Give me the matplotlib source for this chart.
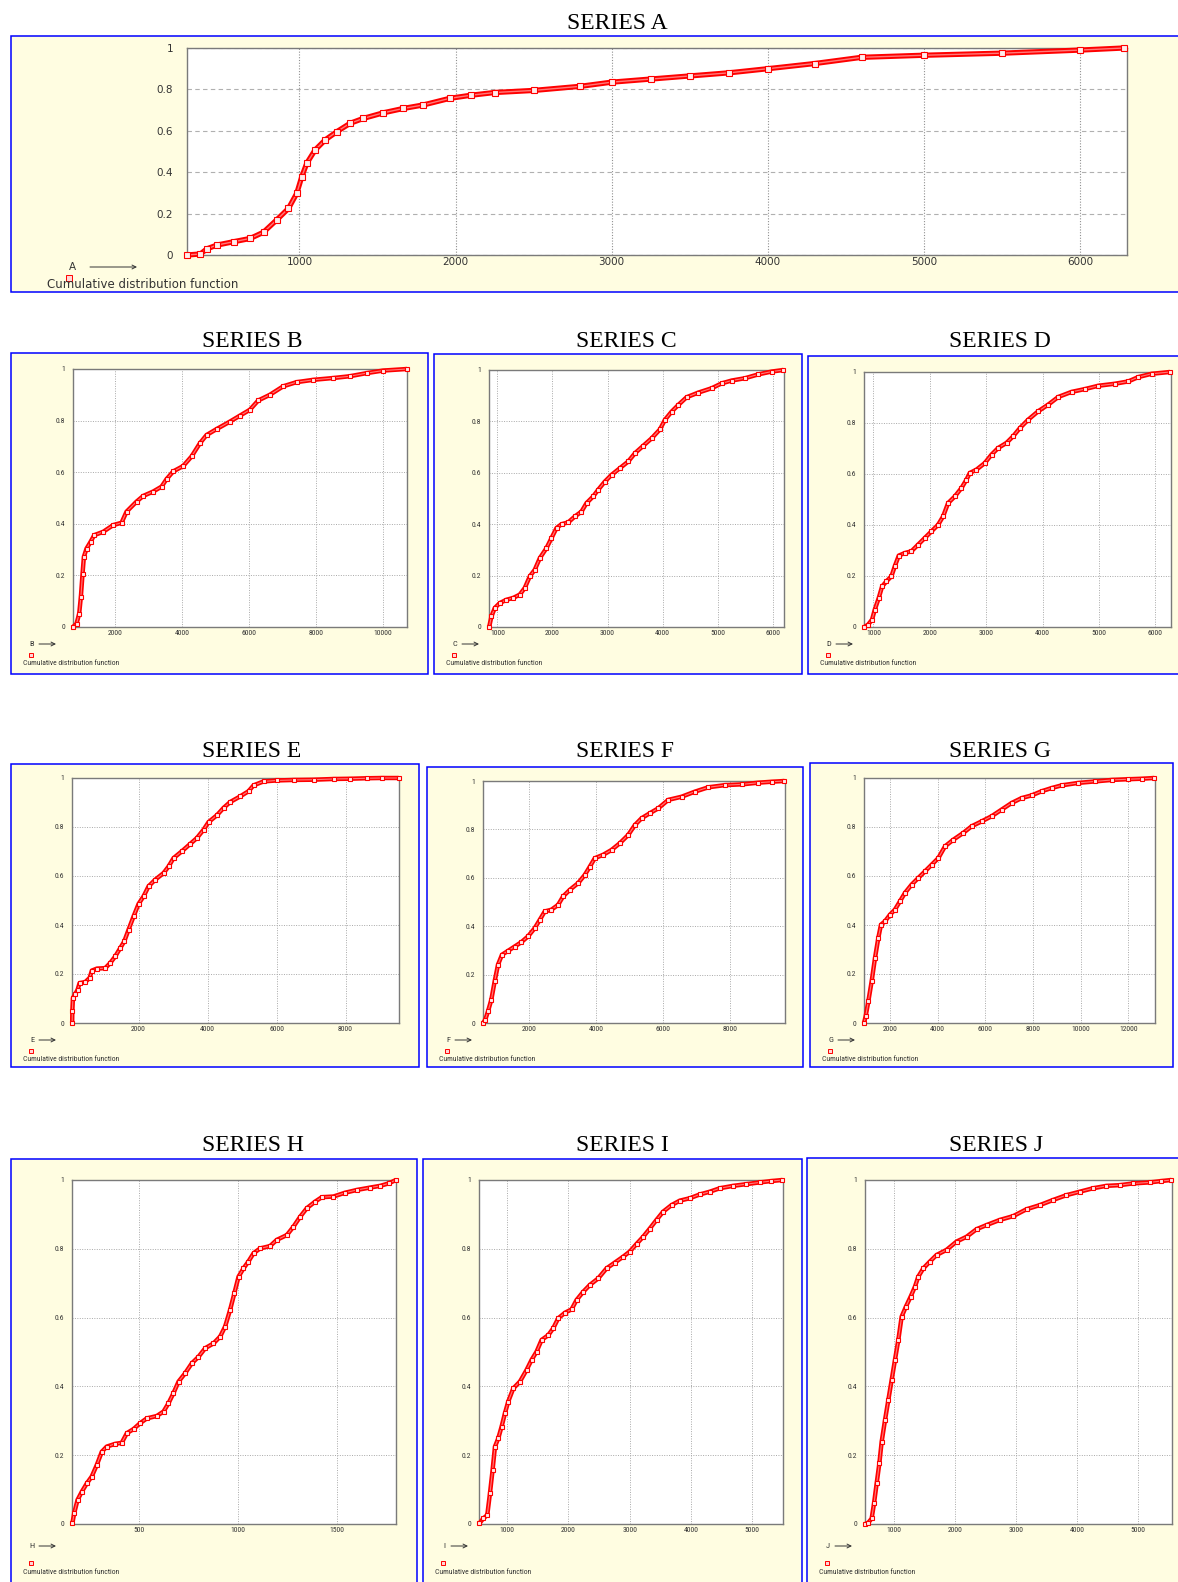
import matplotlib.pyplot as plt
from matplotlib.patches import Rectangle
from matplotlib import font_manager

W, H = 1178, 1582

# ---- data (x value, cumulative probability) ----
a_x = [280, 366, 408, 472, 578, 685, 770, 855, 930, 983, 1015, 1047, 1100, 1165, 1240, 1324,
       1410, 1538, 1666, 1794, 1964, 2100, 2250, 2500, 2800, 3000, 3250, 3500, 3750, 4000,
       4300, 4600, 5000, 5500, 6000, 6280]
a_y = [0, 0.005, 0.03, 0.048, 0.064, 0.08, 0.11, 0.17, 0.225, 0.298, 0.378, 0.443, 0.507, 0.556,
       0.596, 0.636, 0.66, 0.687, 0.708, 0.725, 0.757, 0.772, 0.785, 0.795, 0.815, 0.835, 0.85,
       0.865, 0.88, 0.9, 0.925, 0.955, 0.965, 0.975, 0.99, 1.0]

b_x = [750, 856, 935, 985, 1035, 1075, 1154, 1274, 1383, 1652, 1950, 2199, 2348, 2647, 2846,
       3144, 3393, 3542, 3741, 4040, 4289, 4537, 4736, 5035, 5433, 5731, 6030, 6279, 6627,
       7025, 7423, 7920, 8517, 9015, 9512, 10010, 10720]
b_y = [0, 0.013, 0.052, 0.117, 0.207, 0.272, 0.304, 0.33, 0.356, 0.369, 0.395, 0.404, 0.447,
       0.486, 0.508, 0.525, 0.544, 0.573, 0.603, 0.624, 0.661, 0.712, 0.744, 0.767, 0.796,
       0.819, 0.842, 0.878, 0.9, 0.933, 0.949, 0.958, 0.965, 0.972, 0.984, 0.994, 1.0]

c_x = [850, 891, 952, 1042, 1164, 1285, 1406, 1497, 1588, 1679, 1770, 1891, 1982, 2073, 2164,
       2285, 2406, 2527, 2618, 2739, 2830, 2952, 3073, 3224, 3376, 3497, 3648, 3800, 3952,
       4042, 4164, 4285, 4436, 4648, 4891, 5073, 5255, 5497, 5739, 5982, 6194]
c_y = [0, 0.041, 0.074, 0.093, 0.106, 0.113, 0.126, 0.152, 0.197, 0.223, 0.268, 0.307, 0.346,
       0.385, 0.4, 0.407, 0.43, 0.449, 0.482, 0.508, 0.534, 0.566, 0.592, 0.618, 0.644, 0.676,
       0.705, 0.734, 0.769, 0.806, 0.838, 0.864, 0.894, 0.912, 0.929, 0.948, 0.959, 0.968,
       0.983, 0.994, 1.0]

d_x = [840, 905, 976, 1024, 1095, 1154, 1231, 1320, 1379, 1450, 1556, 1675, 1793, 1911, 2030,
       2148, 2237, 2325, 2444, 2562, 2651, 2710, 2828, 2976, 3095, 3213, 3361, 3479, 3598,
       3746, 3923, 4101, 4278, 4515, 4751, 4988, 5284, 5521, 5698, 5935, 6260]
d_y = [0, 0.009, 0.029, 0.068, 0.114, 0.159, 0.179, 0.199, 0.238, 0.28, 0.29, 0.297, 0.323,
       0.349, 0.375, 0.401, 0.434, 0.486, 0.512, 0.545, 0.578, 0.604, 0.617, 0.643, 0.676,
       0.702, 0.722, 0.748, 0.78, 0.813, 0.846, 0.872, 0.902, 0.922, 0.933, 0.946, 0.954,
       0.963, 0.98, 0.993, 1.0]

e_x = [75, 80, 97, 164, 232, 290, 454, 580, 647, 792, 1034, 1179, 1324, 1469, 1585, 1710, 1855,
       2000, 2145, 2290, 2483, 2725, 2870, 3014, 3256, 3498, 3691, 3884, 4029, 4271, 4464,
       4657, 4947, 5188, 5333, 5623, 6010, 6493, 7072, 7652, 8135, 8618, 9053, 9540]
e_y = [0, 0.048, 0.102, 0.118, 0.136, 0.163, 0.167, 0.184, 0.214, 0.222, 0.224, 0.245, 0.272,
       0.306, 0.333, 0.381, 0.435, 0.486, 0.517, 0.558, 0.585, 0.612, 0.639, 0.673, 0.701,
       0.731, 0.755, 0.789, 0.82, 0.848, 0.878, 0.902, 0.925, 0.946, 0.97, 0.986, 0.99,
       0.992, 0.993, 0.996, 0.997, 0.999, 1.0, 1.0]

f_x = [630, 694, 774, 873, 973, 1073, 1192, 1372, 1571, 1771, 1970, 2170, 2319, 2469, 2668,
       2867, 3017, 3216, 3466, 3665, 3815, 3964, 4213, 4463, 4712, 4961, 5161, 5360, 5609,
       5858, 6158, 6556, 6955, 7354, 7852, 8351, 8850, 9248, 9627]
f_y = [0, 0.014, 0.048, 0.096, 0.172, 0.241, 0.282, 0.298, 0.316, 0.334, 0.358, 0.392, 0.426,
       0.461, 0.468, 0.488, 0.523, 0.55, 0.578, 0.612, 0.646, 0.681, 0.695, 0.715, 0.743,
       0.777, 0.818, 0.846, 0.867, 0.887, 0.922, 0.935, 0.956, 0.974, 0.983, 0.986, 0.993,
       0.997, 1.0]

g_x = [910, 979, 1091, 1231, 1371, 1510, 1622, 1790, 2000, 2210, 2420, 2629, 2909, 3189, 3469,
       3748, 4028, 4308, 4657, 5077, 5427, 5846, 6266, 6685, 7105, 7524, 7944, 8364, 8783,
       9203, 9902, 10601, 11301, 12000, 12559, 13091]
g_y = [0, 0.027, 0.088, 0.17, 0.265, 0.347, 0.401, 0.415, 0.442, 0.463, 0.497, 0.531, 0.565,
       0.592, 0.619, 0.646, 0.673, 0.721, 0.748, 0.776, 0.803, 0.823, 0.844, 0.871, 0.898,
       0.918, 0.929, 0.946, 0.959, 0.97, 0.98, 0.986, 0.992, 0.995, 0.997, 1.0]

h_x = [160, 169, 186, 208, 233, 258, 284, 309, 334, 377, 410, 436, 470, 503, 537, 588, 622, 647,
       672, 698, 731, 765, 799, 833, 875, 909, 934, 959, 981, 1002, 1027, 1052, 1078, 1111,
       1162, 1196, 1247, 1280, 1314, 1348, 1390, 1424, 1483, 1542, 1601, 1669, 1720, 1762, 1800]
h_y = [0.002, 0.031, 0.07, 0.094, 0.118, 0.138, 0.172, 0.21, 0.225, 0.233, 0.236, 0.264, 0.276,
       0.293, 0.307, 0.314, 0.327, 0.351, 0.38, 0.414, 0.438, 0.467, 0.486, 0.511, 0.525,
       0.545, 0.574, 0.622, 0.671, 0.719, 0.743, 0.763, 0.787, 0.801, 0.808, 0.826, 0.84,
       0.864, 0.893, 0.918, 0.937, 0.95, 0.952, 0.963, 0.971, 0.978, 0.983, 0.99, 1.0]

i_x = [545, 608, 673, 717, 760, 799, 853, 907, 962, 1016, 1098, 1207, 1316, 1397, 1479, 1561,
       1670, 1751, 1833, 1942, 2051, 2132, 2241, 2350, 2486, 2622, 2758, 2894, 3003, 3112,
       3221, 3330, 3439, 3548, 3684, 3820, 3983, 4146, 4310, 4473, 4691, 4909, 5126, 5317, 5497]
i_y = [0.002, 0.016, 0.026, 0.089, 0.157, 0.225, 0.249, 0.283, 0.322, 0.356, 0.394, 0.414,
       0.448, 0.477, 0.501, 0.535, 0.549, 0.569, 0.598, 0.614, 0.624, 0.651, 0.675, 0.695,
       0.714, 0.743, 0.76, 0.777, 0.792, 0.814, 0.835, 0.859, 0.884, 0.908, 0.927, 0.94,
       0.947, 0.958, 0.966, 0.976, 0.983, 0.988, 0.993, 0.997, 1.0]

j_x = [530, 580, 634, 673, 716, 760, 798, 853, 907, 962, 1016, 1071, 1126, 1196, 1273, 1344,
       1398, 1480, 1589, 1698, 1862, 2026, 2190, 2353, 2517, 2735, 2954, 3172, 3390, 3608,
       3827, 4045, 4263, 4482, 4700, 4918, 5191, 5382, 5546]
j_y = [0, 0.004, 0.016, 0.06, 0.118, 0.176, 0.239, 0.302, 0.36, 0.419, 0.477, 0.535, 0.603,
       0.632, 0.661, 0.69, 0.719, 0.743, 0.763, 0.782, 0.797, 0.821, 0.835, 0.857, 0.869,
       0.884, 0.895, 0.915, 0.927, 0.942, 0.956, 0.966, 0.976, 0.983, 0.985, 0.99, 0.993,
       0.997, 1.0]

names = ['A', 'B', 'C', 'D', 'E', 'F', 'G', 'H', 'I', 'J']
xs = [a_x, b_x, c_x, d_x, e_x, f_x, g_x, h_x, i_x, j_x]
ys = [a_y, b_y, c_y, d_y, e_y, f_y, g_y, h_y, i_y, j_y]
xlims = [(280, 6300), (750, 10720), (847, 6205), (833, 6279), (70, 9550),
         (625, 9644), (910, 13119), (158, 1800), (538, 5506), (525, 5556)]
xticks = [[1000, 2000, 3000, 4000, 5000, 6000],
          [2000, 4000, 6000, 8000, 10000],
          [1000, 2000, 3000, 4000, 5000, 6000],
          [1000, 2000, 3000, 4000, 5000, 6000],
          [2000, 4000, 6000, 8000],
          [2000, 4000, 6000, 8000],
          [2000, 4000, 6000, 8000, 10000, 12000],
          [500, 1000, 1500],
          [1000, 2000, 3000, 4000, 5000],
          [1000, 2000, 3000, 4000, 5000]]
yticks = [0, 0.2, 0.4, 0.6, 0.8, 1]
ytick_labels = ['0', '0.2', '0.4', '0.6', '0.8', '1']
legend_text = 'Cumulative distribution function'

# ---- layout in pixels: outer box, plot area, title position ----
boxes = [(11, 36, 1186, 292), (11, 353, 428, 674), (434, 354, 802, 674), (808, 356, 1186, 674),
         (11, 764, 419, 1067), (427, 767, 803, 1067), (810, 763, 1173, 1067),
         (11, 1159, 417, 1596), (423, 1159, 802, 1596), (807, 1158, 1186, 1596)]
plots = [(187, 48, 1127, 255), (73, 369, 407, 627), (489, 370, 784, 627), (864, 372, 1171, 627),
         (72, 778, 399, 1023), (483, 781, 785, 1023), (864, 778, 1155, 1023),
         (72, 1180, 396, 1524), (479, 1180, 783, 1524), (865, 1180, 1172, 1524)]
titles = [(617, 29), (252, 347), (626, 347), (1000, 347), (252, 757), (625, 757), (1000, 757),
          (253, 1151), (622, 1151), (996, 1151)]

BG = '#FFFDE1'

# pick a narrow sans face for the tiny labels if one is installed
avail = {(f.name, f.stretch) for f in font_manager.fontManager.ttflist}
avail_names = {n for n, s in avail}
small_fp = None
for cand in ['Liberation Sans Narrow', 'Roboto Condensed', 'Open Sans Condensed',
             'DejaVu Sans Condensed', 'Noto Sans Condensed', 'Arial Narrow']:
    if cand in avail_names:
        small_fp = dict(family=cand)
        small_scale = 1.0
        break
if small_fp is None:
    cond = [n for n, s in avail if n == 'DejaVu Sans' and s in ('condensed', 'semi-condensed')]
    if cond:
        small_fp = dict(family='DejaVu Sans', stretch='condensed')
        small_scale = 0.95
    else:
        small_fp = dict(family='DejaVu Sans')
        small_scale = 0.88

fig = plt.figure(figsize=(W / 100, H / 100), dpi=100)
bg = fig.add_axes([0, 0, 1, 1])
bg.set_xlim(0, W)
bg.set_ylim(H, 0)
bg.axis('off')


def frac(x0, y0, x1, y1):
    return [x0 / W, 1 - y1 / H, (x1 - x0) / W, (y1 - y0) / H]


for k, name in enumerate(names):
    bx0, by0, bx1, by1 = boxes[k]
    px0, py0, px1, py1 = plots[k]
    big = (k == 0)
    bg.add_patch(Rectangle((bx0, by0), bx1 - bx0, by1 - by0, facecolor=BG,
                           edgecolor='#0000FF', lw=1.1))
    bg.text(titles[k][0], titles[k][1], 'SERIES ' + name, family='Liberation Serif',
            fontsize=17, ha='center', va='baseline', color='black')

    # bottom-left legend bits
    if big:
        lx, ly = bx0 + 61, py1 + 12
        ax0, ax1 = bx0 + 79, bx0 + 126
        sx, sy = bx0 + 58, py1 + 23
        tx, ty = bx0 + 36, py1 + 29
        fp, fs_l, fs_t, ms_l = dict(family='DejaVu Sans'), 7.5, 8.5, 4
    else:
        off = 22 if k >= 7 else 17
        lx, ly = bx0 + 21, py1 + off
        ax0, ax1 = bx0 + 28, bx0 + 45
        sx, sy = bx0 + 20, py1 + off + (17 if k >= 7 else 11)
        tx, ty = bx0 + 12, py1 + off + (26 if k >= 7 else 19)
        fp, fs_l, fs_t, ms_l = small_fp, 6 * small_scale, 5.5 * small_scale, 2.6
    bg.text(lx, ly, name, fontsize=fs_l, ha='center', va='center', color='#333333', **fp)
    bg.annotate('', xy=(ax1, ly), xytext=(ax0, ly),
                arrowprops=dict(arrowstyle='->', lw=0.7, color='#333333',
                                shrinkA=0, shrinkB=0, mutation_scale=7))
    bg.plot([sx], [sy], marker='s', ms=ms_l, mfc='#ffd6d6', mec='red', mew=0.7)
    bg.text(tx, ty, legend_text, fontsize=fs_t, ha='left', va='center', color='#333333', **fp)

    ax = fig.add_axes(frac(px0, py0, px1, py1))
    ax.set_facecolor('white')
    ax.plot(xs[k], ys[k], color='red', lw=3.8 if big else 3.2, solid_capstyle='butt',
            solid_joinstyle='round', zorder=3, clip_on=False)
    ax.plot(xs[k], ys[k], color='#ff7a7a', lw=1.0 if big else 0.8, zorder=4, clip_on=False)
    ax.plot(xs[k], ys[k], ls='none', marker='s', ms=4.4 if big else 3.2, mfc='#ffecec',
            mec='red', mew=0.8, zorder=5, clip_on=False)
    ax.set_xlim(*xlims[k])
    ax.set_ylim(0, 1)
    ax.set_xticks(xticks[k])
    ax.set_xticklabels([str(v) for v in xticks[k]])
    ax.set_yticks(yticks)
    ax.set_yticklabels(ytick_labels)
    for s in ax.spines.values():
        s.set_color('#7a7a7a')
        s.set_linewidth(1.0)
    if big:
        ax.tick_params(axis='y', length=0, pad=10, labelsize=7.5, labelcolor='#333333')
        ax.tick_params(axis='x', length=0, pad=1.5, labelsize=7.5, labelcolor='#333333')
        ax.grid(True, axis='y', color='#b0b0b0', ls=(0, (4, 3)), lw=0.8)
        ax.grid(True, axis='x', color='#909090', ls=(0, (1, 1.5)), lw=0.8)
    else:
        ax.tick_params(axis='y', length=0, pad=5.5, labelsize=5.5 * small_scale,
                       labelcolor='#333333')
        ax.tick_params(axis='x', length=0, pad=2, labelsize=5.5 * small_scale,
                       labelcolor='#333333')
        for lab in ax.get_xticklabels() + ax.get_yticklabels():
            lab.set_family(small_fp['family'])
            if 'stretch' in small_fp:
                lab.set_stretch(small_fp['stretch'])
        ax.grid(True, color='#a8a8a8', ls=(0, (1, 1.5)), lw=0.7)
    ax.set_axisbelow(True)

fig.savefig('out.png', dpi=100)
